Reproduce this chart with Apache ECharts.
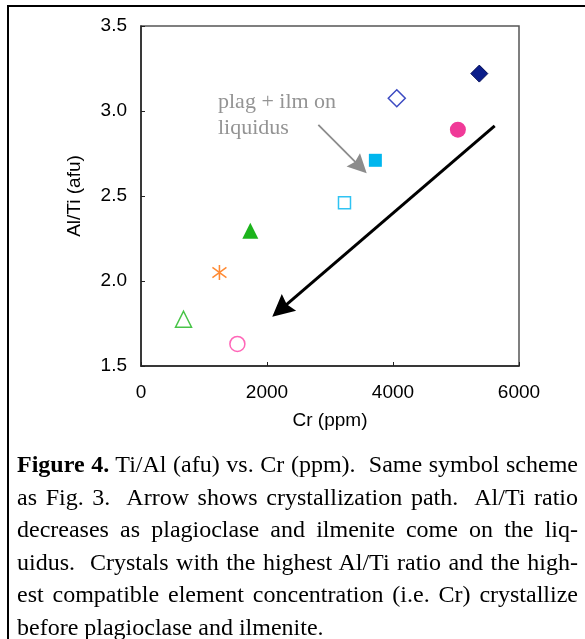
<!DOCTYPE html>
<html>
<head>
<meta charset="utf-8">
<script src="https://cdn.jsdelivr.net/npm/echarts@6/dist/echarts.min.js"></script>
<style>
  html, body { margin:0; padding:0; background:#fff; }
  #wrap { position:relative; width:585px; height:639px; overflow:hidden; background:#fff; }
  #chart { position:absolute; left:0; top:0; width:585px; height:639px; }
  #bl { position:absolute; left:7px; top:5px; width:2px; height:634px; background:#000; }
  #bt { position:absolute; left:7px; top:5px; width:578px; height:2px; background:#000; }
  #cap { position:absolute; left:17px; top:448px; width:561px; font-family:"Liberation Serif","Times New Roman",serif; font-size:24px; line-height:32.5px; color:#000; }
  #cap .j { text-align:justify; text-align-last:justify; }
</style>
</head>
<body>
<div id="wrap">
  <div id="chart"></div>
  <div id="bl"></div>
  <div id="bt"></div>
  <div id="cap">
    <div class="j"><b>Figure 4.</b> Ti/Al (afu) vs. Cr (ppm).&nbsp; Same symbol scheme</div>
    <div class="j">as Fig. 3.&nbsp; Arrow shows crystallization path.&nbsp; Al/Ti ratio</div>
    <div class="j">decreases as plagioclase and ilmenite come on the liq-</div>
    <div class="j">uidus.&nbsp; Crystals with the highest Al/Ti ratio and the high-</div>
    <div class="j">est compatible element concentration (i.e. Cr) crystallize</div>
    <div>before plagioclase and ilmenite.</div>
  </div>
</div>
<script>
// ---- data ----
const crPpm   = [5370, 4060, 5030, 3720, 3230, 1735, 1245, 675, 1530];
const alTiAfu = [3.22, 3.075, 2.89, 2.71, 2.46, 2.295, 2.05, 1.775, 1.63];
const xTicks = [0, 2000, 4000, 6000];
const yTicks = [1.5, 2.0, 2.5, 3.0, 3.5];
// crystallization path arrow (start, arrow-head centre)
const pathArrow = [[5614, 2.912], [2216, 1.832]];
// annotation arrow "plag + ilm on liquidus"
const liqArrow = [[2815, 2.918], [3476, 2.673]];
const noteText = 'plag + ilm on\nliquidus';

// ---- styles per sample ----
const markerStyles = [
  { symbol:'diamond', size:17, color:'#0b1d8a', border:'#000a55', bw:1 },
  { symbol:'diamond', size:17, color:'#ffffff', border:'#3d4bc2', bw:1.5 },
  { symbol:'circle',  size:16, color:'#f03a98', border:'#f03a98', bw:0 },
  { symbol:'rect',    size:13, color:'#00b6ee', border:'#00b6ee', bw:0 },
  { symbol:'rect',    size:12, color:'#ffffff', border:'#2fc3f3', bw:1.5 },
  { symbol:'triangle',size:16, color:'#1cb41c', border:'#1cb41c', bw:0 },
  { symbol:'path://M0,-11L0,11M-7.5,-7.5L7.5,7.5M-7.5,7.5L7.5,-7.5', size:[14,15], color:'transparent', border:'#ff8a33', bw:1.6 },
  { symbol:'triangle',size:16, color:'#ffffff', border:'#48c448', bw:1.5 },
  { symbol:'circle',  size:15, color:'#ffffff', border:'#ff66b8', bw:1.5 }
];

const scatterSeries = crPpm.map((x, i) => {
  const s = markerStyles[i];
  return {
    type:'scatter', z:5,
    symbol:s.symbol, symbolSize:s.size,
    itemStyle:{ color:s.color, borderColor:s.border, borderWidth:s.bw, opacity:1 },
    emphasis:{ disabled:true },
    data:[[x, alTiAfu[i]]]
  };
});

const headPath = 'path://M10,0L20,22L10,19L0,22Z';

const chart = echarts.init(document.getElementById('chart'), null, { renderer:'canvas' });
const axisFont = '"Liberation Sans", Arial, sans-serif';
chart.setOption({
  animation:false,
  backgroundColor:'transparent',
  grid:{ left:141, top:26, width:378, height:340, show:true, borderColor:'#555', borderWidth:1.5, outerBoundsMode:'none', containLabel:false },
  xAxis:{
    type:'value', min:xTicks[0], max:xTicks[xTicks.length-1], interval:2000,
    name:'Cr (ppm)', nameLocation:'middle', nameGap:45, nameMoveOverlap:false,
    nameTextStyle:{ fontSize:19, color:'#000', fontFamily:axisFont },
    axisLine:{ show:true, lineStyle:{ color:'#222', width:1.5 } },
    axisTick:{ show:true, inside:true, length:4, lineStyle:{ color:'#222' } },
    axisLabel:{ fontSize:19, color:'#000', fontFamily:axisFont, margin:17, formatter:v => String(v), showMinLabel:true, showMaxLabel:true },
    splitLine:{ show:false }
  },
  yAxis:{
    type:'value', min:yTicks[0], max:yTicks[yTicks.length-1], interval:0.5,
    name:'Al/Ti (afu)', nameLocation:'middle', nameGap:57, nameRotate:90, nameMoveOverlap:false,
    nameTextStyle:{ fontSize:19, color:'#000', fontFamily:axisFont },
    axisLine:{ show:true, lineStyle:{ color:'#222', width:1.5 } },
    axisTick:{ show:true, inside:true, length:4, lineStyle:{ color:'#222' } },
    axisLabel:{ fontSize:19, color:'#000', fontFamily:axisFont, margin:14, formatter:v => v.toFixed(1), showMinLabel:true, showMaxLabel:true },
    splitLine:{ show:false }
  },
  graphic:[{
    type:'text', left:218, top:89, z:10,
    style:{ text:noteText, font:'22px "Liberation Serif", "Times New Roman", serif', fill:'#949494', lineHeight:26 }
  }],
  series:[
    {
      type:'lines', coordinateSystem:'cartesian2d', z:3,
      symbol:['none', headPath], symbolSize:[22,22],
      lineStyle:{ color:'#000', width:3, opacity:1, curveness:0 },
      emphasis:{ disabled:true },
      data:[{ coords:pathArrow }]
    },
    {
      type:'lines', coordinateSystem:'cartesian2d', z:3,
      symbol:['none', headPath], symbolSize:[20,19],
      lineStyle:{ color:'#8c8c8c', width:1.8, opacity:1, curveness:0 },
      emphasis:{ disabled:true },
      data:[{ coords:liqArrow }]
    }
  ].concat(scatterSeries)
});
</script>
</body>
</html>
